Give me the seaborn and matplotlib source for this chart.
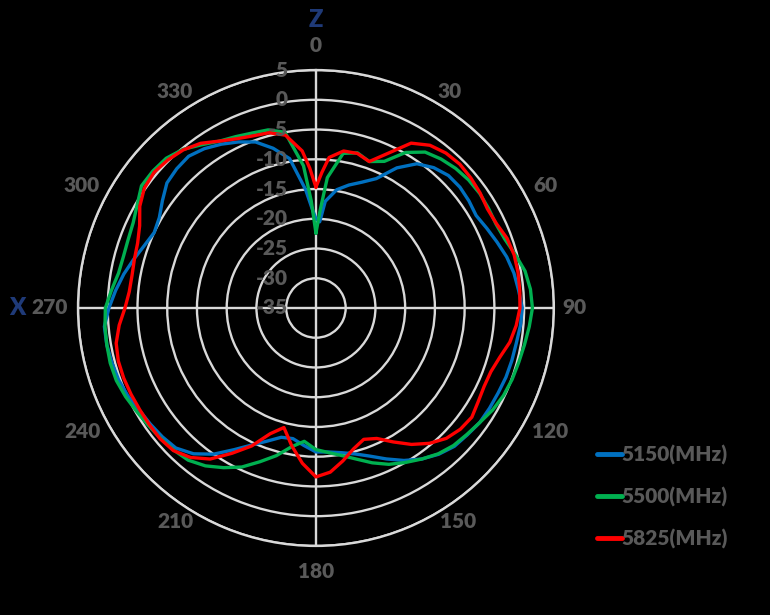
import numpy as np
import pandas as pd
import seaborn as sns
import matplotlib.pyplot as plt
import matplotlib.transforms as mtransforms
from matplotlib.lines import Line2D

# angles in degrees (0 = Z axis at top, clockwise)
angles = [0, 2.5] + list(range(5, 360, 5)) + [357.5]

gain_5150 = [-20.0, -20.5, -17.0, -14.8, -13.6, -12.5, -11.0, -7.8, -5.4, -4.2,
             -3.5, -3.4, -3.6, -3.9, -3.3, -2.6, -1.8, -1.2, -0.8, -0.3,
             -0.5, -0.8, -0.9, -1.0, -1.2, -1.3, -1.4, -1.8, -2.1, -2.9,
             -4.0, -5.4, -7.0, -8.5, -9.6, -10.3, -10.7, -10.8, -11.8, -12.7,
             -12.5, -11.2, -9.6, -7.5, -5.0, -3.0, -1.7, -1.3, -1.0, -0.7,
             -0.1, 0.3, 0.5, 0.7, 0.7, -0.2, -1.2, -2.2, -3.3, -4.3,
             -5.0, -4.6, -3.5, -2.3, -1.9, -1.7, -2.3, -3.2, -4.2, -5.3,
             -7.2, -9.5, -15.0, -18.0]

gain_5500 = [-22.4, -18.5, -13.0, -8.6, -8.0, -8.8, -7.8, -4.8, -3.0, -2.3,
             -1.8, -1.5, -1.4, -1.5, -1.6, -1.2, -0.3, 0.7, 1.2, 1.4,
             1.0, 0.6, 0.3, 0.1, -0.2, -0.7, -1.4, -1.9, -2.3, -3.0,
             -4.0, -5.0, -6.0, -7.3, -8.7, -9.8, -10.6, -11.2, -12.5, -11.3,
             -9.3, -7.5, -5.5, -4.0, -2.6, -1.6, -1.2, -0.9, -0.6, -0.2,
             0.3, 0.7, 0.8, 0.7, 0.6, 0.4, -0.5, -1.3, -1.5, -1.4,
             -1.1, -0.3, 0.8, 0.8, 0.6, -0.2, -1.5, -2.6, -3.2, -3.7,
             -4.0, -5.0, -11.0, -17.0]

gain_5825 = [-14.7, -12.2, -9.6, -8.2, -8.1, -8.8, -6.3, -3.0, -1.6, -1.0,
             -0.8, -1.0, -1.3, -1.7, -1.5, -0.8, -0.5, -0.5, -0.6, -0.7,
             -1.2, -1.9, -3.0, -3.7, -3.8, -3.5, -3.0, -3.3, -4.0, -5.3,
             -7.0, -9.0, -10.8, -11.5, -10.5, -8.9, -7.3, -6.6, -8.8, -11.5,
             -14.2, -12.5, -9.4, -6.8, -4.0, -2.2, -1.1, -0.8, -0.8, -0.8,
             -0.7, -0.6, -0.6, -0.9, -1.8, -2.9, -3.5, -3.6, -3.4, -3.1,
             -2.3, -0.8, 0.2, 0.5, 0.2, -0.3, -1.2, -2.6, -3.6, -4.2,
             -4.5, -5.5, -8.5, -11.5]

series_names = ['5150(MHz)', '5500(MHz)', '5825(MHz)']
colors = ['#0070C0', '#00B050', '#FF0000']
r_ticks = [-35, -30, -25, -20, -15, -10, -5, 0, 5]
theta_ticks = list(range(0, 360, 30))

# long table, curves closed back to the start
rows = []
for name, vals in zip(series_names, [gain_5150, gain_5500, gain_5825]):
    a = angles + [360]
    v = vals + [vals[0]]
    for ang, g in zip(a, v):
        rows.append({'theta': np.deg2rad(ang), 'gain': g, 'freq': name})
df = pd.DataFrame(rows)

sns.set_style('white')
plt.rcParams['font.family'] = ['Lato', 'DejaVu Sans']
grey = '#595959'
gridc = '#D9D9D9'
navy = '#1F3A78'
bg = 'black'
fw = 'heavy'

fig = plt.figure(figsize=(7.7, 6.15), dpi=100, facecolor=bg)
ax = fig.add_axes([0.1013, 0.1122, 0.618, 0.774], projection='polar')
ax.set_facecolor(bg)
ax.set_theta_zero_location('N')
ax.set_theta_direction(-1)

sns.lineplot(data=df, x='theta', y='gain', hue='freq', palette=colors,
             hue_order=series_names, sort=False, estimator=None,
             linewidth=2.4, legend=False, ax=ax)
for ln in ax.lines:
    ln.set_solid_joinstyle('round')

ax.set_ylim(-35, 5)
ax.set_yticks(r_ticks)
ax.set_yticklabels([])
ax.set_xticks(np.deg2rad(theta_ticks))
ax.set_xticklabels([])
ax.set_xlabel('')
ax.set_ylabel('')

# angle labels just outside the rim, offset (px, right / down) like Excel does
label_off = {0: (0, -25), 30: (15, -10), 60: (23, -4), 90: (21, 0),
             120: (28, 5), 150: (23, 7), 180: (0, 26), 210: (-22, 7),
             240: (-27, 5), 270: (-28, 0), 300: (-28, -4), 330: (-22, -10)}
for t in theta_ticks:
    dx, dy = label_off[t]
    tr = mtransforms.offset_copy(ax.transData, fig=fig, x=dx, y=-dy, units='dots')
    ax.text(np.deg2rad(t), 5, str(t), transform=tr, ha='center', va='center',
            color=grey, fontsize=15, fontweight=fw, clip_on=False)

ax.grid(True, color=gridc, linewidth=1.7)
for i, gl in enumerate(ax.xaxis.get_gridlines()):
    gl.set_visible(i % 3 == 0)
ax.spines['polar'].set_color(gridc)
ax.spines['polar'].set_linewidth(1.7)

# radial labels along the vertical axis
off = mtransforms.offset_copy(ax.transData, fig=fig, x=-28, y=0, units='dots')
for r in r_ticks:
    ax.text(0, r, str(r), transform=off, ha='right', va='center',
            color=grey, fontsize=15, fontweight=fw)

# axis names
fig.text(316 / 770, 1 - 20 / 615, 'Z', ha='center', va='center',
         color=navy, fontsize=17, fontweight=fw)
fig.text(17 / 770, 1 - 308 / 615, 'X', ha='center', va='center',
         color=navy, fontsize=17, fontweight=fw)

handles = [Line2D([], [], color=c, linewidth=3.5) for c in colors]
leg = fig.legend(handles, series_names, loc='upper left',
                 bbox_to_anchor=(578 / 770, 1 - 426 / 615), frameon=False,
                 handlelength=1.2, handletextpad=0.0, labelspacing=1.05,
                 prop={'size': 15, 'weight': fw, 'family': 'Lato'})
for t in leg.get_texts():
    t.set_color(grey)

fig.savefig('out.png', dpi=100, facecolor=bg)
